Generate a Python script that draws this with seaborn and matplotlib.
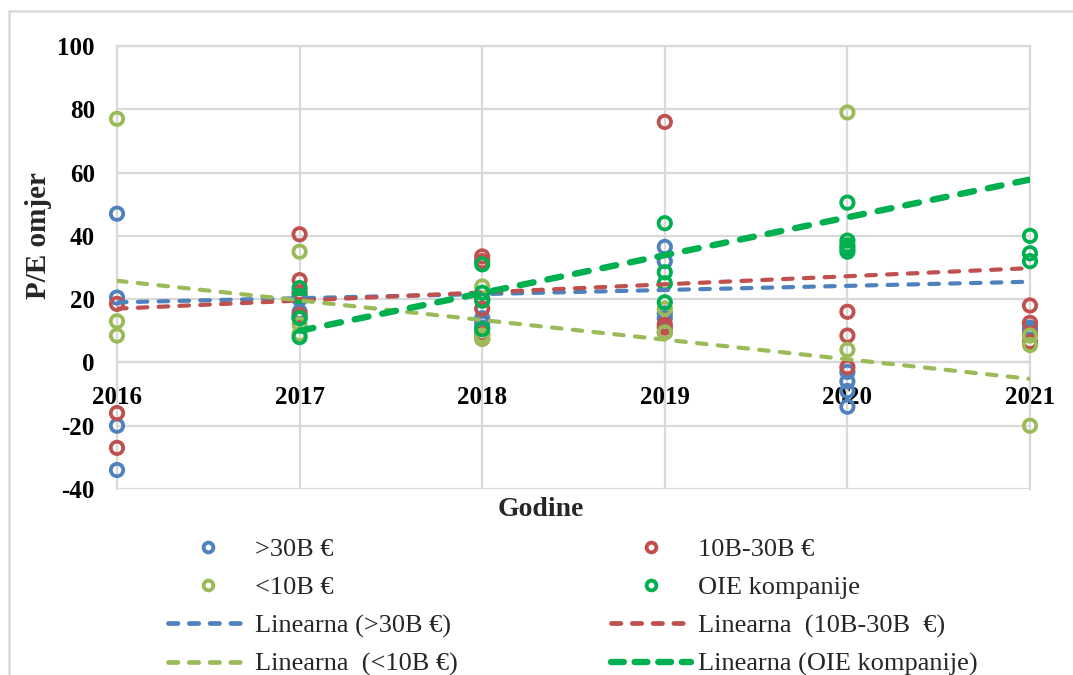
import matplotlib
matplotlib.use("Agg")
import matplotlib.pyplot as plt
from matplotlib.lines import Line2D
import seaborn as sns
import pandas as pd

# ---------------- data ----------------
years = [2016, 2017, 2018, 2019, 2020, 2021]
y_ticks = [-40, -20, 0, 20, 40, 60, 80, 100]

big_x = [2016, 2016, 2016, 2016, 2017, 2017, 2017, 2018, 2018, 2018,
         2019, 2019, 2019, 2019, 2020, 2020, 2020, 2020, 2021, 2021]
big_y = [47, 20.5, -20, -34, 20, 16, 14, 14, 12.5, 11,
         36.5, 32, 15.5, 14, -3, -6, -9, -14, 11, 10]

mid_x = [2016, 2016, 2016, 2017, 2017, 2017, 2017, 2018, 2018, 2018, 2018, 2018, 2018,
         2019, 2019, 2019, 2019, 2020, 2020, 2020, 2021, 2021, 2021, 2021]
mid_y = [18.5, -16, -27, 40.5, 26, 22, 15, 33.5, 32, 20, 17, 9, 7.5,
         76, 12, 11, 9.5, 16, 8.5, -1.5, 18, 12.5, 9, 6.5]

small_x = [2016, 2016, 2016, 2017, 2017, 2017, 2018, 2018, 2018,
           2019, 2019, 2020, 2020, 2021, 2021, 2021]
small_y = [77, 13, 8.5, 35, 12, 9, 24, 8.5, 7.5,
           17, 9.5, 79, 4, 8.5, 5.5, -20]

oie_x = [2017, 2017, 2017, 2017, 2018, 2018, 2018, 2018,
         2019, 2019, 2019, 2019, 2020, 2020, 2020, 2020, 2020, 2021, 2021, 2021]
oie_y = [23.5, 21, 14, 8, 31, 22, 19.5, 10.5,
         44, 28.5, 25, 19, 50.5, 38.5, 37, 36, 35, 40, 34.5, 32]

# linear trend lines (fitted values at first/last year)
trend_big_x, trend_big_y = [2016, 2021], [19.0, 25.5]
trend_mid_x, trend_mid_y = [2016, 2021], [17.0, 29.8]
trend_small_x, trend_small_y = [2016, 2021], [25.8, -5.2]
trend_oie_x, trend_oie_y = [2017, 2021], [10.0, 57.8]

series_names = [">30B €", "10B-30B €", "<10B €", "OIE kompanije"]
trend_names = ["Linearna (>30B €)", "Linearna  (10B-30B  €)", "Linearna  (<10B €)", "Linearna (OIE kompanije)"]
colors = ["#4F81BD", "#C0504D", "#9BBB59", "#00B050"]

# ---------------- style ----------------
sns.set_theme(style="white")
plt.rcParams["font.family"] = ["Liberation Serif", "DejaVu Serif"]
plt.rcParams["axes.unicode_minus"] = False

W, H = 1073, 675
fig = plt.figure(figsize=(W / 100, H / 100), dpi=100)
L, R, T, B = 117, 1030, 46, 489
ax = fig.add_axes([L / W, 1 - B / H, (R - L) / W, (B - T) / H])

grid_c = "#D9D9D9"
ax.set_xlim(2016, 2021)
ax.set_ylim(-40, 100)
ax.set_yticks(y_ticks)
ax.set_xticks(years)
ax.set_xticklabels([str(y) for y in years])
ax.grid(True, color=grid_c, lw=1.6)
ax.set_axisbelow(True)
for s in ax.spines.values():
    s.set_color(grid_c)
    s.set_linewidth(1.6)
ax.spines["bottom"].set_position(("data", 0))
ax.tick_params(axis="both", length=0)
ax.tick_params(axis="y", pad=16, labelsize=18)
ax.tick_params(axis="x", pad=17, labelsize=18)
for lab in ax.get_xticklabels() + ax.get_yticklabels():
    lab.set_fontweight("bold")
    lab.set_color("black")

# scatter series
sx = [big_x, mid_x, small_x, oie_x]
sy = [big_y, mid_y, small_y, oie_y]
for xs, ys, c in zip(sx, sy, colors):
    df = pd.DataFrame({"year": xs, "pe": ys})
    sns.scatterplot(data=df, x="year", y="pe", ax=ax, marker="o", s=80,
                    facecolors="none", edgecolors=c, linewidth=2.7,
                    clip_on=False, zorder=3, legend=False)

# trend lines
tx = [trend_big_x, trend_mid_x, trend_small_x, trend_oie_x]
ty = [trend_big_y, trend_mid_y, trend_small_y, trend_oie_y]
lws = [3.0, 3.0, 3.0, 4.6]
dash_specs = [(0, (2.3, 2.7)), (0, (2.3, 2.7)), (0, (2.3, 2.7)), (0, (2.2, 2.2))]
for xs, ys, c, lw, ds in zip(tx, ty, colors, lws, dash_specs):
    sns.lineplot(x=xs, y=ys, ax=ax, color=c, lw=lw, linestyle=ds,
                 dash_capstyle="round", zorder=4, legend=False)

ax.set_xlabel("")
ax.set_ylabel("")

fig.text(39 / W, 1 - 236 / H, "P/E omjer", rotation=90, ha="center", va="center",
         fontsize=21, fontweight="bold")
fig.text(541 / W, 1 - 510 / H, "Godine", ha="center", va="center",
         fontsize=20, fontweight="bold")

# legend
mk = [Line2D([], [], ls="", marker="o", ms=7, mfc="none", mec=c, mew=2.8)
      for c in colors]
ln = [Line2D([], [], color=c, lw=lw, linestyle=ds, dash_capstyle="round")
      for c, lw, ds in zip(colors, [3.4, 3.4, 3.4, 4.6],
                           [(0, (2.0, 2.4)), (0, (2.0, 2.4)), (0, (2.0, 2.4)), (0, (2.0, 1.7))])]
handles = [mk[0], mk[2], ln[0], ln[2], mk[1], mk[3], ln[1], ln[3]]
labels = [series_names[0], series_names[2], trend_names[0], trend_names[2],
          series_names[1], series_names[3], trend_names[1], trend_names[3]]
leg = fig.legend(handles, labels, ncol=2, loc="upper left",
                 bbox_to_anchor=(168 / W, 1 - 538 / H), frameon=False,
                 fontsize=19, handlelength=3.05, handletextpad=0.25,
                 columnspacing=5.8, labelspacing=0.55, borderpad=0, borderaxespad=0)

# outer chart border
fig.add_artist(Line2D([9 / W, 9 / W], [0, 1 - 11 / H], color=grid_c, lw=1.8,
                      transform=fig.transFigure))
fig.add_artist(Line2D([9 / W, 1], [1 - 11 / H, 1 - 11 / H], color=grid_c, lw=1.8,
                      transform=fig.transFigure))

fig.savefig("out.png", dpi=100)
